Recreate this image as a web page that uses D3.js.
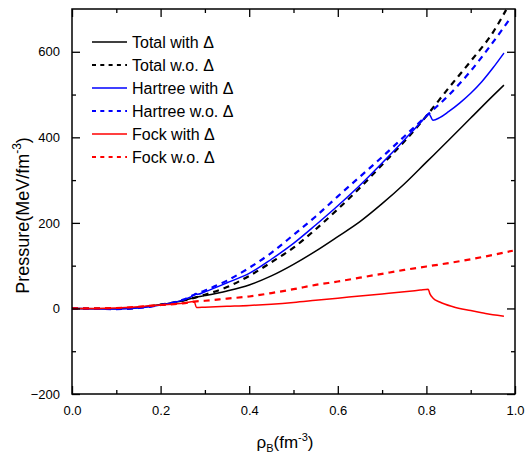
<!DOCTYPE html>
<html>
<head>
<meta charset="utf-8">
<script src="https://cdn.jsdelivr.net/npm/d3@7"></script>
<style>
  html, body { margin: 0; padding: 0; background: #fff; }
  svg { display: block; font-family: "Liberation Sans", Arial, sans-serif; }
</style>
</head>
<body>
<svg id="chart" width="527" height="456"></svg>
<script>
// ---- data ----
const xTicks = [0.0, 0.2, 0.4, 0.6, 0.8, 1.0];
const yTicks = [-200, 0, 200, 400, 600];
const xMinor = [0.1, 0.3, 0.5, 0.7, 0.9];
const yMinor = [-100, 100, 300, 500];

const totalWith = [[0,0],[0.05,-0.5],[0.1,-0.5],[0.15,2],[0.2,9],[0.25,18],[0.28,26],[0.3,30],[0.35,41],[0.4,55],[0.45,76],[0.5,103],[0.55,134],[0.6,168],[0.65,203],[0.7,245],[0.75,291],[0.8,342],[0.85,393],[0.9,445],[0.95,497],[0.975,522]];
const totalWo = [[0,0],[0.05,-0.5],[0.1,-0.5],[0.15,2],[0.2,9],[0.25,18],[0.28,26],[0.3,32],[0.35,50],[0.4,76],[0.45,108],[0.5,142],[0.55,185],[0.6,232],[0.65,282],[0.7,336],[0.75,390],[0.8,450],[0.85,515],[0.9,578],[0.95,645],[0.98,698]];
const hartreeWith = [[0,0],[0.05,-1],[0.1,-1.5],[0.15,1],[0.2,8],[0.25,20],[0.276,32],[0.279,35],[0.284,33],[0.3,39],[0.35,60],[0.4,82],[0.45,115],[0.5,152],[0.55,195],[0.6,240],[0.65,288],[0.7,340],[0.75,394],[0.8,450],[0.805,456],[0.815,440],[0.83,446],[0.85,460],[0.875,480],[0.9,503],[0.925,530],[0.95,562],[0.975,597]];
const hartreeWo = [[0,0],[0.05,-1],[0.1,-1.5],[0.15,1],[0.2,8],[0.25,20],[0.276,32],[0.3,42],[0.35,65],[0.4,95],[0.45,130],[0.5,172],[0.55,215],[0.6,262],[0.65,308],[0.7,354],[0.75,402],[0.8,450],[0.85,498],[0.9,555],[0.95,622],[0.985,672]];
const fockWith = [[0,0],[0.05,0],[0.1,1],[0.15,4],[0.2,8],[0.25,12],[0.276,16],[0.281,2],[0.3,3],[0.35,5],[0.4,7],[0.45,10],[0.5,14],[0.55,19],[0.6,24],[0.65,29],[0.7,34],[0.75,39],[0.786,43],[0.804,45],[0.808,34],[0.815,24],[0.83,15],[0.86,4],[0.9,-5],[0.925,-10],[0.95,-15],[0.975,-18]];
const fockWo = [[0,0],[0.05,0],[0.1,1],[0.15,4],[0.2,8],[0.25,12],[0.276,16],[0.3,18],[0.35,23],[0.4,28],[0.45,36],[0.5,45],[0.55,55],[0.6,63],[0.65,72],[0.7,81],[0.75,90],[0.8,98],[0.85,106],[0.9,115],[0.95,125],[0.995,135]];

const seriesNames = ["Total with \u0394", "Total w.o. \u0394", "Hartree with \u0394", "Hartree w.o. \u0394", "Fock with \u0394", "Fock w.o. \u0394"];
const seriesData = [totalWith, totalWo, hartreeWith, hartreeWo, fockWith, fockWo];
const seriesColors = ["#000000", "#000000", "#0000ff", "#0000ff", "#ff0000", "#ff0000"];
const seriesDashed = [false, true, false, true, false, true];

// ---- layout ----
const svg = d3.select("#chart");
const L = 72, R = 515, T = 9, B = 394;
const x = d3.scaleLinear().domain([0, 1]).range([L, R]);
const y = d3.scaleLinear().domain([-200, 700]).range([B, T]);

svg.append("defs").append("clipPath").attr("id", "clip")
  .append("rect").attr("x", L).attr("y", T).attr("width", R - L).attr("height", B - T);

// curves
const line = d3.line().x(d => x(d[0])).y(d => y(d[1])).curve(d3.curveMonotoneX);
const plot = svg.append("g").attr("clip-path", "url(#clip)");
seriesData.forEach((data, i) => {
  plot.append("path")
    .attr("d", line(data))
    .attr("fill", "none")
    .attr("stroke", seriesColors[i])
    .attr("stroke-width", seriesDashed[i] ? 2.2 : 1.5)
    .attr("stroke-dasharray", seriesDashed[i] ? "6,5" : null);
});

// axes (ticks inward on all four sides)
const fmt = d3.format(".1f");
const axB = d3.axisBottom(x).tickValues(xTicks).tickSize(-8).tickFormat(fmt).tickPadding(12);
const axT = d3.axisTop(x).tickValues(xTicks).tickSize(-8).tickFormat("");
const axL = d3.axisLeft(y).tickValues(yTicks).tickSize(-8).tickFormat(d3.format("d")).tickPadding(12);
const axR = d3.axisRight(y).tickValues(yTicks).tickSize(-8).tickFormat("");
const mB = d3.axisBottom(x).tickValues(xMinor).tickSize(-4).tickFormat("");
const mT = d3.axisTop(x).tickValues(xMinor).tickSize(-4).tickFormat("");
const mL = d3.axisLeft(y).tickValues(yMinor).tickSize(-4).tickFormat("");
const mR = d3.axisRight(y).tickValues(yMinor).tickSize(-4).tickFormat("");

function addAxis(ax, tx, ty) {
  const g = svg.append("g").attr("transform", `translate(${tx},${ty})`).call(ax);
  g.select(".domain").remove();
  g.selectAll(".tick line").attr("stroke", "#000").attr("stroke-width", 1.3);
  g.selectAll(".tick text").attr("font-size", 13).attr("fill", "#000")
    .attr("font-family", "'Liberation Sans', Arial, sans-serif");
  return g;
}
addAxis(axB, 0, B);
addAxis(axT, 0, T);
addAxis(axL, L, 0);
addAxis(axR, R, 0);
addAxis(mB, 0, B);
addAxis(mT, 0, T);
addAxis(mL, L, 0);
addAxis(mR, R, 0);

svg.append("rect").attr("x", L).attr("y", T).attr("width", R - L).attr("height", B - T)
  .attr("fill", "none").attr("stroke", "#000").attr("stroke-width", 1.5);

// axis titles
const xt = svg.append("text").attr("x", 285).attr("y", 448)
  .attr("text-anchor", "middle").attr("font-size", 17).attr("fill", "#000");
xt.append("tspan").text("\u03C1");
xt.append("tspan").attr("font-size", 11).attr("dy", 4).text("B");
xt.append("tspan").attr("dy", -4).text("(fm");
xt.append("tspan").attr("font-size", 11).attr("dy", -7).text("-3");
xt.append("tspan").attr("dy", 7).text(")");

const yt = svg.append("text")
  .attr("transform", `translate(29,${(T + B) / 2 + 14}) rotate(-90)`)
  .attr("text-anchor", "middle").attr("font-size", 18).attr("fill", "#000");
yt.append("tspan").text("Pressure(MeV/fm");
yt.append("tspan").attr("font-size", 12).attr("dy", -8).text("-3");
yt.append("tspan").attr("dy", 8).text(")");

// legend
const legX1 = 92, legX2 = 127, legTx = 132, legY0 = 42, legDy = 23;
seriesNames.forEach((name, i) => {
  const yy = legY0 + i * legDy;
  svg.append("line").attr("x1", legX1).attr("x2", legX2).attr("y1", yy).attr("y2", yy)
    .attr("stroke", seriesColors[i])
    .attr("stroke-width", seriesDashed[i] ? 2 : 1.5)
    .attr("stroke-dasharray", seriesDashed[i] ? "4,4.3" : null);
  svg.append("text").attr("x", legTx).attr("y", yy + 6)
    .attr("font-size", 16).attr("fill", "#000").text(name);
});
</script>
</body>
</html>
